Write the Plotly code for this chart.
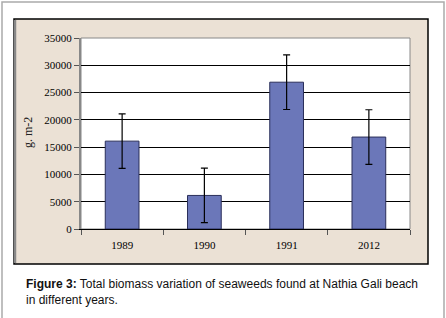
import plotly.graph_objects as go

years = ["1989", "1990", "1991", "2012"]
biomass = [16100, 6150, 26900, 16850]
errors = [5000, 5000, 5000, 5000]
y_ticks = [0, 5000, 10000, 15000, 20000, 25000, 30000, 35000]
y_tick_labels = [str(v) for v in y_ticks]

W, H = 446, 318
L, R, T, B = 81, 410, 38, 229


def px(x):
    return (x - L) / (R - L)


def py(y):
    return (B - y) / (B - T)


fig = go.Figure()
fig.add_trace(go.Bar(
    x=years, y=biomass, width=0.41,
    marker=dict(color="#6b77b9", line=dict(color="#2a2f5a", width=1)),
    error_y=dict(type="data", array=errors, visible=True, color="black",
                 thickness=1.2, width=3.5),
))

shapes = [
    # outer frame
    dict(type="rect", xref="paper", yref="paper", x0=px(2), x1=px(444), y0=py(335), y1=py(2),
         line=dict(color="#aaaaaa", width=1.5), fillcolor="white", layer="below"),
    # beige chart box
    dict(type="rect", xref="paper", yref="paper", x0=px(14), x1=px(428), y0=py(264), y1=py(19),
         line=dict(color="black", width=1.5), fillcolor="#ebe1d5", layer="below"),
    dict(type="line", xref="paper", yref="paper", x0=px(15), x1=px(15), y0=py(263), y1=py(20),
         line=dict(color="#888888", width=2.5)),
    # plot area
    dict(type="rect", xref="paper", yref="paper", x0=0, x1=1, y0=0, y1=1,
         line=dict(color="#888888", width=1), fillcolor="white", layer="below"),
]

fig.update_layout(
    width=W, height=H,
    margin=dict(l=L, r=W - R, t=T, b=H - B),
    paper_bgcolor="rgba(0,0,0,0)", plot_bgcolor="rgba(0,0,0,0)",
    showlegend=False,
    shapes=shapes,
    font=dict(family="Liberation Serif, Times New Roman, serif", size=11, color="black"),
    xaxis=dict(type="category", tickson="boundaries", ticks="outside", ticklen=5,
               tickcolor="#555555", showline=True, linecolor="black", linewidth=1,
               showgrid=False, tickfont=dict(size=11), range=[-0.5, 3.5],
               ticklabelstandoff=6),
    yaxis=dict(range=[0, 35000], tickvals=y_ticks, ticktext=y_tick_labels,
               ticks="outside", ticklen=5,
               tickcolor="#555555", showline=True, linecolor="#888888", linewidth=2,
               gridcolor="black", gridwidth=1, zeroline=False, tickfont=dict(size=11)),
    annotations=[
        dict(text="g. m-2", xref="paper", yref="paper", x=px(28), y=py(133),
             showarrow=False, textangle=-90, xanchor="center", yanchor="middle",
             font=dict(size=12, color="#222222")),
        dict(text="<b>Figure 3:</b> Total biomass variation of seaweeds found at Nathia Gali beach<br>in different years.",
             xref="paper", yref="paper", x=px(24), y=py(275), xanchor="left", yanchor="top",
             align="left", showarrow=False,
             font=dict(family="Liberation Sans, Arial, sans-serif", size=12, color="#111111")),
    ],
)

fig.write_html("out.html", config={"displayModeBar": False},
               post_script="document.body.style.margin='0';")
